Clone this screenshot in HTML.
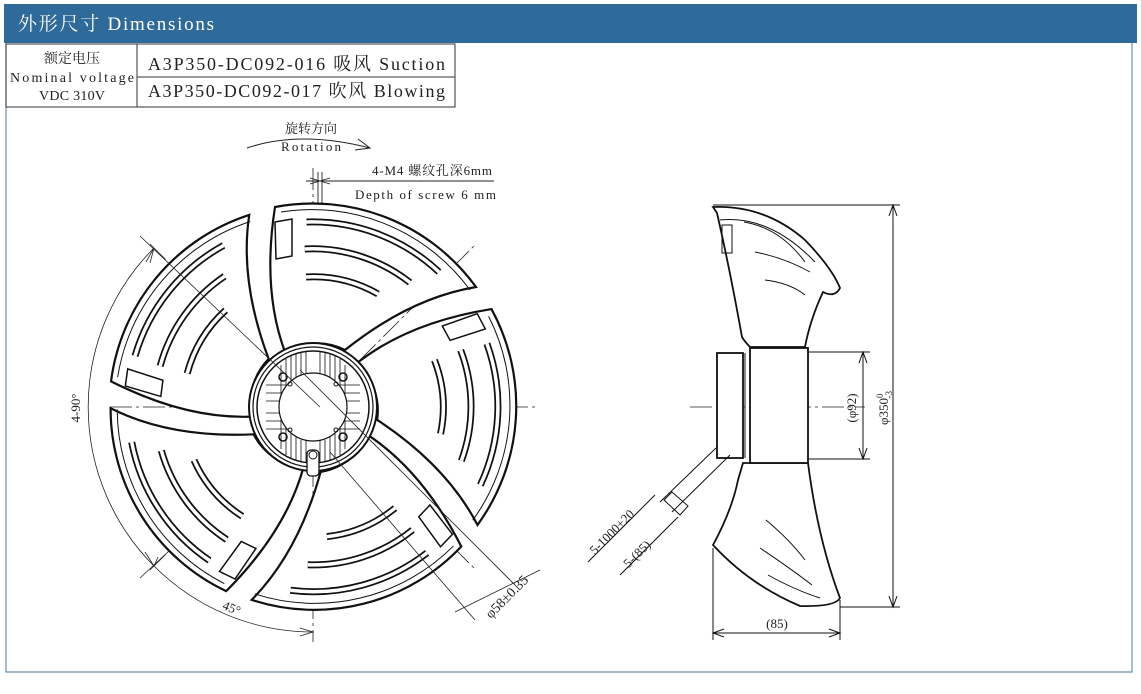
<!DOCTYPE html>
<html><head><meta charset="utf-8"><style>
html,body{margin:0;padding:0;background:#fff;width:1141px;height:694px;overflow:hidden}
svg{display:block}
text{font-family:"Liberation Serif","Noto Serif CJK SC","Noto Sans CJK SC",serif;fill:#222}
</style></head><body>
<svg width="1141" height="694" viewBox="0 0 1141 694" xmlns="http://www.w3.org/2000/svg">
<rect x="4" y="4" width="1133" height="39" fill="#2e6a9a"/>
<text x="18" y="30" font-size="19" style="fill:#fff" textLength="196">外形尺寸 Dimensions</text>
<path d="M6,43 V672 H1132 V43" fill="none" stroke="#6f8fae" stroke-width="1.2"/>
<g fill="none" stroke="#333" stroke-width="1">
<rect x="6" y="44" width="449" height="63"/>
<line x1="137" y1="44" x2="137" y2="107"/>
<line x1="137" y1="77" x2="455" y2="77"/>
</g>
<text x="72" y="63" font-size="14" text-anchor="middle">额定电压</text>
<text x="72" y="82" font-size="14" text-anchor="middle" textLength="124">Nominal voltage</text>
<text x="72" y="100" font-size="14" text-anchor="middle" textLength="66">VDC 310V</text>
<text x="148" y="70" font-size="18" textLength="297">A3P350-DC092-016 吸风 Suction</text>
<text x="148" y="97" font-size="18" textLength="297">A3P350-DC092-017 吹风 Blowing</text>

<!-- rotation -->
<text x="311" y="133" font-size="13" text-anchor="middle">旋转方向</text>
<text x="311" y="151" font-size="13" text-anchor="middle" textLength="60">Rotation</text>
<path d="M247,148 Q300,130 370,148 M358,139 L370,148 L355,150" fill="none" stroke="#222" stroke-width="1"/>
<!-- screw -->
<text x="372" y="175" font-size="13" textLength="120">4-M4 螺纹孔深6mm</text>
<text x="355" y="199" font-size="13" textLength="141">Depth of screw 6 mm</text>
<g stroke="#222" stroke-width="0.9" fill="none">
<line x1="306" y1="181" x2="494" y2="181"/>
<line x1="318" y1="172" x2="318" y2="360"/><line x1="322" y1="172" x2="322" y2="360"/>
<path d="M320,181 l-10,-3 m10,3 l-10,3 M320,181 l10,-3 m-10,3 l10,3"/>
</g>

<!-- centerlines -->
<g stroke="#222" stroke-width="0.8" stroke-dasharray="22,4,3,4" fill="none">
<line x1="110" y1="407" x2="536" y2="407"/>
<line x1="313" y1="168" x2="313" y2="642"/>
<line x1="150" y1="244" x2="476" y2="570"/>
<line x1="150" y1="570" x2="476" y2="244"/>
<line x1="690" y1="407" x2="865" y2="407"/>
</g>

<!-- blades -->
<g id="bl">
<g fill="#fff" stroke="#111" stroke-width="2.2">
<path d="M275,207 A202,202 0 0 1 476,287 Q410,298 345,350 A63,63 0 0 0 285,352 Q262,290 275,207 Z"/>
</g>
<path d="M281,212 A196,196 0 0 1 470,290" fill="none" stroke="#111" stroke-width="1"/>
<g fill="none" stroke-linecap="butt">
<path d="M306.5,222 A185,185 0 0 1 439,272" stroke="#111" stroke-width="7"/>
<path d="M306.5,222 A185,185 0 0 1 439,272" stroke="#fff" stroke-width="3.5"/>
<path d="M304.7,249 A158,158 0 0 1 410,282.5" stroke="#111" stroke-width="7"/>
<path d="M304.7,249 A158,158 0 0 1 410,282.5" stroke="#fff" stroke-width="3.5"/>
<path d="M306,277 A130,130 0 0 1 378,294" stroke="#111" stroke-width="7"/>
<path d="M306,277 A130,130 0 0 1 378,294" stroke="#fff" stroke-width="3.5"/>
</g>
<polygon points="275,222 292,219 292,256 276,259" fill="#fff" stroke="#111" stroke-width="1.5"/>
</g>
<use href="#bl" transform="rotate(72 313 407)"/>
<use href="#bl" transform="rotate(144 313 407)"/>
<use href="#bl" transform="rotate(216 313 407)"/>
<use href="#bl" transform="rotate(288 313 407)"/>

<!-- hub -->
<g fill="none" stroke="#111">
<circle cx="313" cy="407" r="64" fill="#fff" stroke-width="2"/>
<circle cx="313" cy="407" r="60" stroke-width="1.2"/>
<circle cx="313" cy="407" r="56" stroke-width="1.5"/>
<g stroke-width="0.8">
<path d="M281,365 V449 M286,359 V455 M291,356 V458 M296,353 V461 M330,353 V461 M335,356 V458 M340,359 V455 M345,365 V449 M301,352 V375 M306,352 V375 M320,352 V375 M325,352 V375 M301,440 V462 M306,440 V462 M320,440 V462 M325,440 V462"/>
<path d="M266,385 H360 M266,393 H360 M266,401 H360 M266,413 H360 M266,421 H360 M266,429 H360"/>
</g>
<circle cx="313" cy="407" r="34" fill="#fff" stroke-width="1.2"/>
<circle cx="283" cy="377" r="4" stroke-width="1.5"/><circle cx="343" cy="377" r="4" stroke-width="1.5"/>
<circle cx="283" cy="437" r="4" stroke-width="1.5"/><circle cx="343" cy="437" r="4" stroke-width="1.5"/>
<circle cx="290" cy="384" r="2"/><circle cx="336" cy="384" r="2"/><circle cx="290" cy="430" r="2"/><circle cx="336" cy="430" r="2"/>
<rect x="307" y="450" width="12" height="26" rx="4" fill="#fff" stroke-width="1.3"/>
<circle cx="313" cy="455" r="4"/>
</g>

<!-- dimension arcs -->
<g fill="none" stroke="#222" stroke-width="0.8">
<path d="M154,248 A225,225 0 0 0 154,566"/>
<path d="M154,566 A225,225 0 0 0 313,632"/>
<line x1="140" y1="236" x2="320" y2="407"/>
<line x1="140" y1="578" x2="170" y2="550"/>
<line x1="300" y1="370" x2="520" y2="590"/>
<line x1="330" y1="452" x2="475" y2="620"/>
<line x1="455" y1="612" x2="540" y2="570"/>
<path d="M146,262 L154,248 L150,263 M145,552 L154,566 L158,557 M300,628 L313,632 L300,636"/>
</g>
<text transform="translate(80,408) rotate(-90)" font-size="13" text-anchor="middle">4-90°</text>
<text transform="translate(230,612) rotate(22)" font-size="13" text-anchor="middle">45°</text>
<text transform="translate(510,600) rotate(-45)" font-size="14" text-anchor="middle">φ58±0.35</text>

<!-- side view -->
<g fill="#fff" stroke="#111" stroke-width="1.8">
<path d="M713,207 Q765,205 805,240 Q832,268 840,288 Q835,298 823,292 Q810,320 805,347 L750,347 Q745,342 742,337 Q730,270 717,213 Z"/>
<path d="M743,463 L808,463 Q818,540 840,598 Q835,607 800,606 Q750,585 713,545 Q732,510 738,480 Z"/>
<rect x="750" y="348" width="58" height="115"/>
<rect x="717" y="353" width="26" height="105"/>
</g>
<g fill="none" stroke="#111" stroke-width="1">
<path d="M720,220 Q770,215 815,262 M744,222 Q780,228 805,262 M755,252 Q785,258 810,272 M765,280 Q790,283 805,295"/>
<path d="M766,520 Q790,540 805,560 M760,548 Q790,568 812,585 M768,575 Q795,590 820,598"/>
<rect x="722" y="225" width="10" height="28"/>
<line x1="745" y1="353" x2="745" y2="458"/>
<path d="M716,448 L660,502 M730,455 L672,512 M664,500 L680,515 L688,506 L672,492 Z"/>
<line x1="655" y1="495" x2="588" y2="562"/>
<line x1="678" y1="517" x2="620" y2="575"/>
<line x1="893" y1="205" x2="893" y2="607"/><line x1="713" y1="205" x2="900" y2="205"/><line x1="840" y1="607" x2="900" y2="607"/>
<line x1="863" y1="352" x2="863" y2="459"/><line x1="808" y1="352" x2="870" y2="352"/><line x1="808" y1="459" x2="870" y2="459"/>
<line x1="713" y1="548" x2="713" y2="640"/><line x1="840" y1="600" x2="840" y2="640"/><line x1="713" y1="633" x2="840" y2="633"/>
<path d="M889,216 L893,205 L897,216 M889,596 L893,607 L897,596 M859,363 L863,352 L867,363 M859,448 L863,459 L867,448 M724,629 L713,633 L724,637 M829,629 L840,633 L829,637"/>
</g>
<text transform="translate(856,408) rotate(-90)" font-size="13" text-anchor="middle">(φ92)</text>
<text transform="translate(888,408) rotate(-90)" font-size="13" text-anchor="middle">φ350<tspan font-size="9" dy="-5">0</tspan><tspan font-size="9" dx="-5" dy="9">-3</tspan></text>
<text x="777" y="628" font-size="13" text-anchor="middle">(85)</text>
<text transform="translate(615,535) rotate(-45)" font-size="13" text-anchor="middle">5-1000±20</text>
<text transform="translate(640,557) rotate(-45)" font-size="13" text-anchor="middle">5-(85)</text>
</svg>
</body></html>
